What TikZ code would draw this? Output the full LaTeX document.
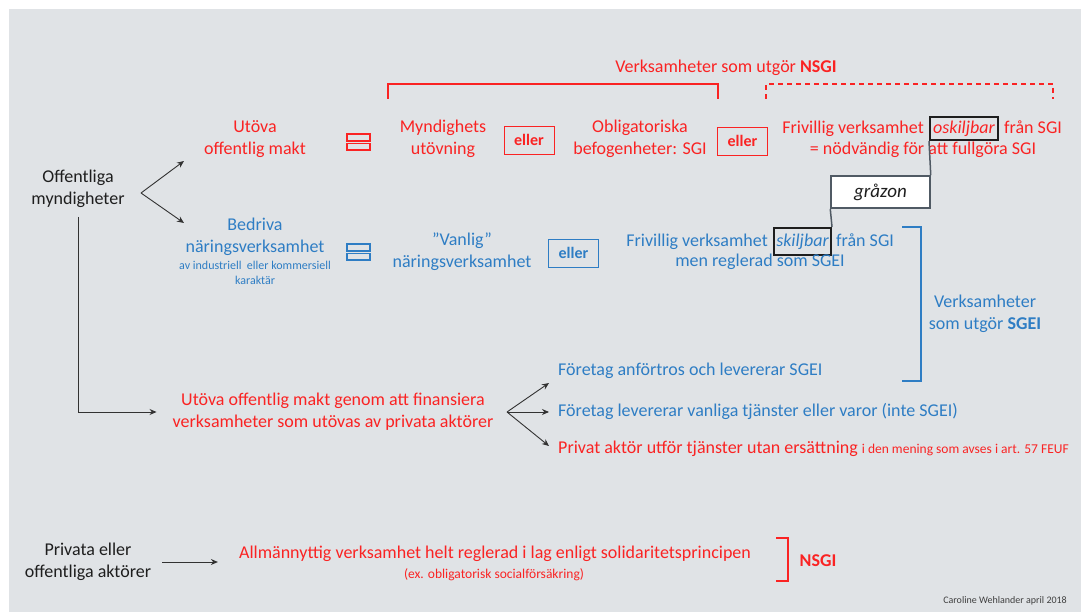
\documentclass[tikz,border=0pt]{standalone}
\usepackage{fontspec}
\setmainfont{Carlito}
\usetikzlibrary{arrows.meta}
\definecolor{bg}{RGB}{224,227,230}
\definecolor{myred}{RGB}{250,35,35}
\definecolor{myblue}{RGB}{46,125,196}
\definecolor{ink}{RGB}{30,30,30}
\definecolor{lnk}{RGB}{80,90,100}
\definecolor{arrowc}{RGB}{50,50,50}
\begin{document}
\begin{tikzpicture}[x=1pt,y=-1pt,
  basetxt/.style={inner sep=0pt, align=center, font=\fontsize{18}{22}\selectfont},
  rtxt/.style={basetxt, text=myred},
  btxt/.style={basetxt, text=myblue},
  ktxt/.style={basetxt, text=ink},
  ellerbox/.style={draw, line width=0.9pt, minimum width=50pt, minimum height=28pt, inner sep=0pt, font=\bfseries\fontsize{16}{18}\selectfont},
  kbox/.style={draw=ink, line width=2pt, inner sep=0pt, font=\itshape\fontsize{18}{22}\selectfont},
  arr/.style={draw=arrowc, line width=0.9pt, -{Stealth[length=7pt,width=6pt]}},
  link/.style={draw=lnk, line width=1.5pt},
  brk/.style={line width=1.5pt},
  eqbox/.style={line width=1.5pt},
]
\useasboundingbox (0,0) rectangle (1081,612);
\fill[bg] (9,9) rectangle (1081,612);

% left column
\node[ktxt] (offm) at (78,189) {Offentliga\\myndigheter};
\node[rtxt] (utova) at (255,139) {Utöva\\offentlig makt};
\node[btxt] (bedriva) at (255,237) {Bedriva\\näringsverksamhet};
\node[btxt, font=\fontsize{12}{14.5}\selectfont] (bedsmall) at (255,273) {av industriell\ \ eller kommersiell\\karaktär};

\coordinate (fk1) at (141,193);
\coordinate (t1) at (184,161);
\coordinate (t2) at (184,223);
\draw[arr] (fk1) -- (t1);
\draw[arr] (fk1) -- (t2);

% equals symbols
\draw[eqbox, myred] (347,134) rectangle (370,141);
\draw[eqbox, myred] (347,143.5) rectangle (370,150);
\draw[eqbox, myblue] (347,244) rectangle (370,251);
\draw[eqbox, myblue] (347,253.5) rectangle (370,260);

% NSGI title and brackets
\node[rtxt] (ntitle) at (726,68) {Verksamheter som utgör \textbf{NSGI}};
\draw[brk, myred] (388,99) -- (388,84) -- (718,84) -- (718,99);
\draw[brk, myred, dash pattern=on 5pt off 4pt] (766,99) -- (766,84) -- (1053,84) -- (1053,99);

% red row
\node[rtxt] (mynd) at (443,139) {Myndighets\\utövning};
\node[ellerbox, draw=myred, text=myred] (eller1) at (529,140) {eller};
\node[rtxt] (oblig) at (640,139) {Obligatoriska\\befogenheter: SGI};
\node[ellerbox, draw=myred, text=myred] (eller2) at (742.5,141) {eller};
\node[kbox, text=myred, minimum width=68pt, minimum height=23pt] (oskb) at (964,128.5) {oskiljbar};
\node[rtxt, anchor=base east] (friv1a) at ([xshift=-5pt]oskb.base west) {Frivillig verksamhet};
\node[rtxt, anchor=base west] (friv1b) at ([xshift=5pt]oskb.base east) {från SGI};
\node[rtxt] (friv1c) at (923,150) {= nödvändig för att fullgöra SGI};

% grey zone
\node[kbox, draw=lnk, line width=1.5pt, fill=white, text=ink, font=\itshape\fontsize{19}{22}\selectfont, minimum width=99pt, minimum height=32pt] (graz) at (880.5,192) {gråzon};

% blue row
\node[btxt] (vanlig) at (462,252) {”Vanlig”\\näringsverksamhet};
\node[ellerbox, draw=myblue, text=myblue] (eller3) at (573.5,253) {eller};
\node[kbox, text=myblue, minimum width=57pt, minimum height=27pt] (skb) at (802.5,241.5) {skiljbar};
\node[btxt, anchor=base east] (friv2a) at ([xshift=-5pt]skb.base west) {Frivillig verksamhet};
\node[btxt, anchor=base west] (friv2b) at ([xshift=4pt]skb.base east) {från SGI};
\node[btxt] (friv2c) at (760,262) {men reglerad som SGEI};

\draw[link] (oskb.south west) -- (graz.north east);
\draw[link] (graz.south west) -- (skb.north east);

% SGEI bracket
\draw[brk, myblue, line width=1.8pt] (902,227) -- (921,227) -- (921,381) -- (902,381);
\node[btxt] (sgei) at (985,314) {Verksamheter\\som utgör \textbf{SGEI}};

% financing
\node[rtxt] (fin) at (333,412) {Utöva offentlig makt genom att finansiera\\verksamheter som utövas av privata aktörer};
\draw[arr] ([yshift=-9pt]offm.south) |- ([xshift=-16pt]fin.west);

\coordinate (fk2) at (507,412);
\node[btxt, anchor=west] (f1) at (558,371) {Företag anförtros och levererar SGEI};
\node[btxt, anchor=west] (f2) at (558,411) {Företag levererar vanliga tjänster eller varor (inte SGEI)};
\node[rtxt, anchor=west] (f3) at (558,449) {Privat aktör utför tjänster utan ersättning {\fontsize{13.5}{16}\selectfont i den mening som avses i art. 57 FEUF}};
\coordinate (a1) at (549,383);
\coordinate (a2) at (549,412);
\coordinate (a3) at (549,446);
\draw[arr] (fk2) -- (a1);
\draw[arr] (fk2) -- (a2);
\draw[arr] (fk2) -- (a3);

% bottom
\node[ktxt] (priv) at (88,562) {Privata eller\\offentliga aktörer};
\node[rtxt] (allm) at (495,554) {Allmännyttig verksamhet helt reglerad i lag enligt solidaritetsprincipen};
\node[rtxt, font=\fontsize{13.5}{16}\selectfont] (ex) at (494,575) {(ex. obligatorisk socialförsäkring)};
\draw[arr] ([xshift=11pt]priv.east) -- ([xshift=-21pt]allm.west |- priv.east);
\draw[brk, myred, line width=1.8pt] (776,538) -- (788,538) -- (788,581) -- (776,581);
\node[rtxt, font=\bfseries\fontsize{18}{22}\selectfont] (nsgi) at (818,561) {NSGI};

\node[ktxt, anchor=east, text=black!75, font=\fontsize{10}{12}\selectfont] (sig) at (1067,601) {Caroline Wehlander april 2018};
\end{tikzpicture}
\end{document}
